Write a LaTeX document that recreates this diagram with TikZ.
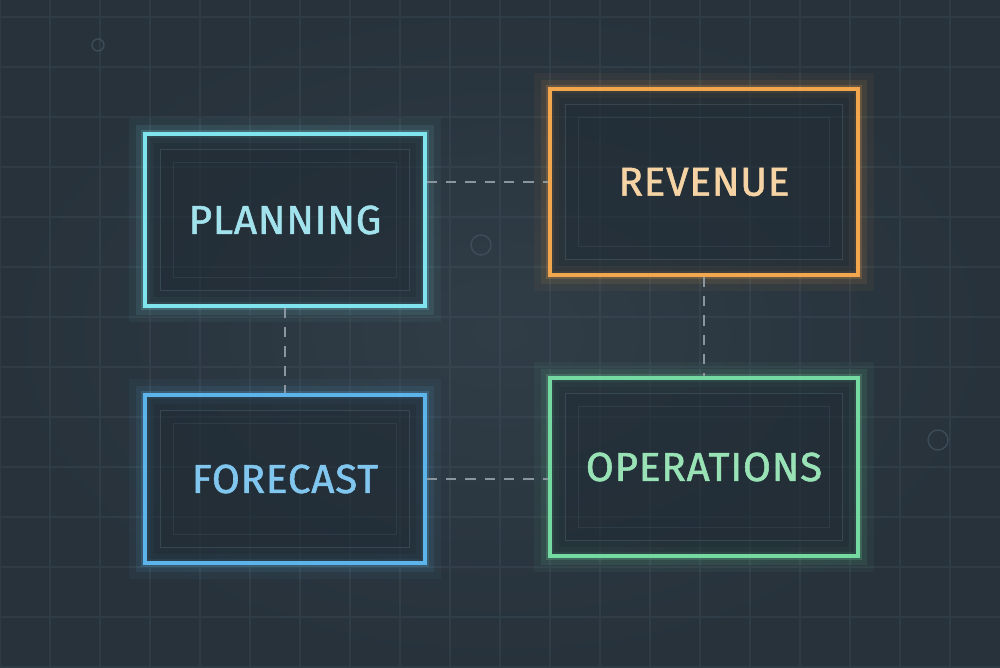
\documentclass[tikz,border=0pt]{standalone}
\usepackage{fontspec}
\usepackage{xcolor}
\usepackage{tikz}
\newfontfamily\labelfont[LetterSpace=2, FakeBold=1.4]{Fira Sans}

\definecolor{bgSlate}{HTML}{27323B}
\definecolor{bgLight}{HTML}{303D47}
\definecolor{gridLine}{HTML}{4A5C68}
\definecolor{boxFill}{HTML}{1F2A33}
\definecolor{linkGray}{HTML}{8A969F}
\definecolor{planCyan}{HTML}{7FE4EE}
\definecolor{planText}{HTML}{A2E2EC}
\definecolor{revOrange}{HTML}{F2A64E}
\definecolor{revText}{HTML}{F6D3A4}
\definecolor{foreBlue}{HTML}{5CB4EA}
\definecolor{foreText}{HTML}{80C6EE}
\definecolor{opsGreen}{HTML}{74DAA2}
\definecolor{opsText}{HTML}{98E2B6}

\tikzset{
    glowbox/.style 2 args={rectangle, draw=#1, text=#2, line width=0.9pt,
        fill=boxFill, fill opacity=0.55, text opacity=1,
        font=\labelfont\fontsize{11.5}{13}\selectfont,
        preaction={draw=#1, line width=9pt, draw opacity=0.05},
        preaction={draw=#1, line width=5pt, draw opacity=0.09},
        preaction={draw=#1, line width=2.5pt, draw opacity=0.2}},
    innerframe/.style={draw=gridLine, line width=0.4pt, opacity=0.5},
    link/.style={draw=linkGray, line width=0.6pt, dash pattern=on 3pt off 2.5pt}
}

\begin{document}
\begin{tikzpicture}
    % background
    \fill[bgSlate] (0,0) rectangle (10,6.67);
    \shade[inner color=bgLight, outer color=bgSlate] (0,0) rectangle (10,6.67);
    \useasboundingbox (0,0) rectangle (10,6.67);
    \draw[gridLine, line width=0.3pt, opacity=0.25] (0,0) grid[step=0.5] (10,6.67);
    \draw[gridLine, line width=0.4pt, opacity=0.6] (0.98,6.22) circle (0.06);
    \draw[gridLine, line width=0.4pt, opacity=0.6] (4.81,4.22) circle (0.1);
    \draw[gridLine, line width=0.4pt, opacity=0.6] (9.38,2.27) circle (0.1);

    \draw (2.85,4.47) node (nodePlan) [glowbox={planCyan}{planText}, minimum width=2.8cm, minimum height=1.72cm] {PLANNING};
    \draw (7.04,4.85) node (nodeRev) [glowbox={revOrange}{revText}, minimum width=3.08cm, minimum height=1.86cm] {REVENUE};
    \draw (2.85,1.88) node (nodeFore) [glowbox={foreBlue}{foreText}, minimum width=2.8cm, minimum height=1.68cm] {FORECAST};
    \draw (7.04,2.0) node (nodeOps) [glowbox={opsGreen}{opsText}, minimum width=3.08cm, minimum height=1.78cm] {OPERATIONS};

    % faint frames inside the boxes
    \foreach \n in {nodePlan, nodeRev, nodeFore, nodeOps} {
        \draw[innerframe] ([shift={(0.17,-0.17)}]\n.north west) rectangle ([shift={(-0.17,0.17)}]\n.south east);
        \draw[innerframe, opacity=0.3] ([shift={(0.3,-0.3)}]\n.north west) rectangle ([shift={(-0.3,0.3)}]\n.south east);
    }

    \draw[link] (nodePlan.east |- nodeRev.west) -- (nodeRev.west);
    \draw[link] (nodePlan.south) -- (nodeFore.north);
    \draw[link] (nodeRev.south) -- (nodeOps.north);
    \draw[link] (nodeFore.east) -- (nodeFore.east -| nodeOps.west);
\end{tikzpicture}
\end{document}
